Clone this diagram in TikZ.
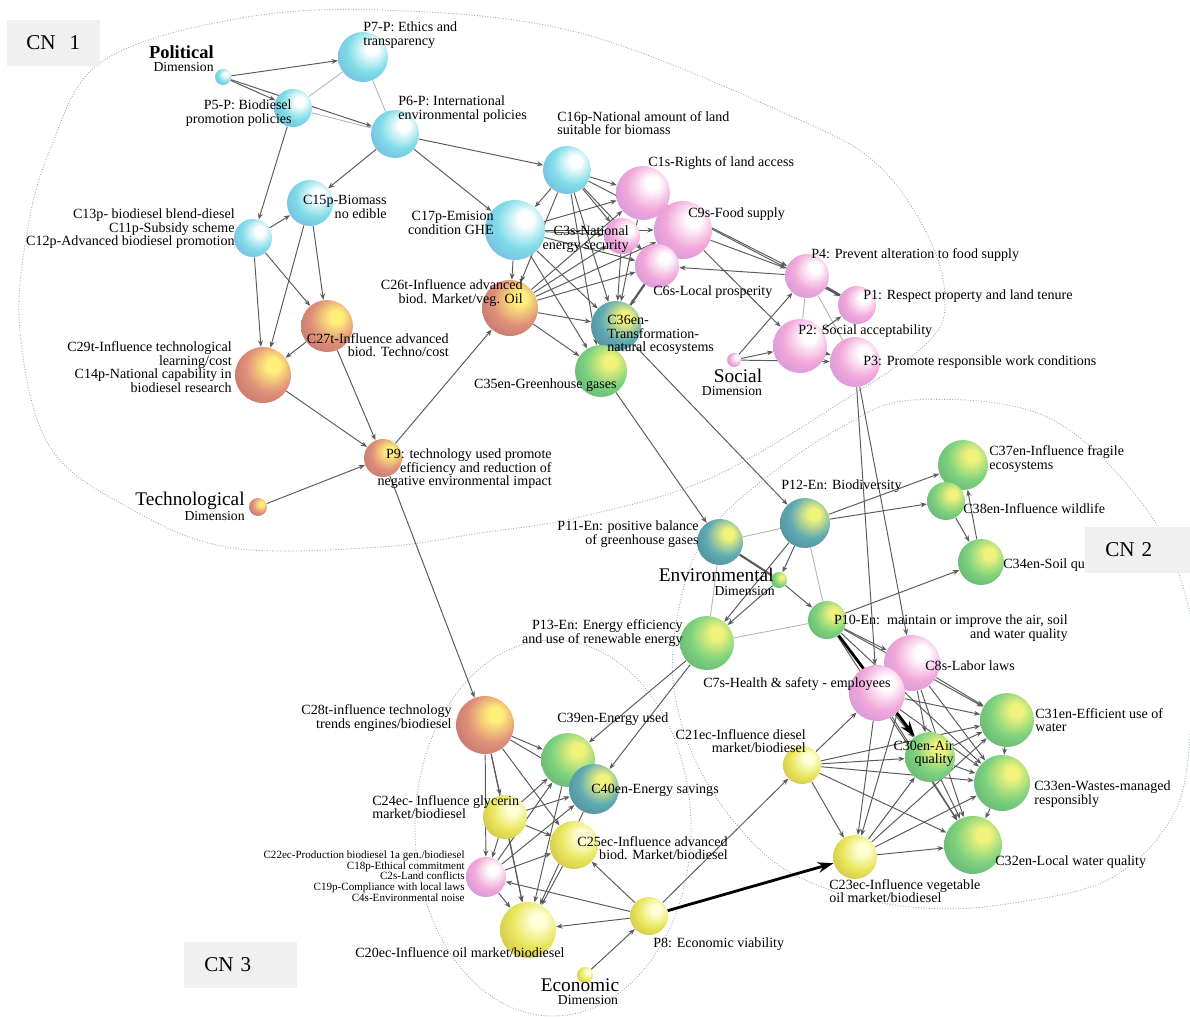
\documentclass[tikz,border=0pt]{standalone}
\usepackage{fontspec}
\setmainfont{Liberation Serif}
\usetikzlibrary{arrows.meta,backgrounds}
\definecolor{cPolA}{HTML}{7FDCE8}
\definecolor{cPolB}{HTML}{6E7FD0}
\definecolor{cSocA}{HTML}{F2A8DA}
\definecolor{cSocB}{HTML}{9A7ED8}
\definecolor{cTecH}{HTML}{FFF07A}
\definecolor{cTecA}{HTML}{E0907A}
\definecolor{cTecB}{HTML}{8E4E58}
\definecolor{cEnvH}{HTML}{F0F27C}
\definecolor{cEnvA}{HTML}{7ED27E}
\definecolor{cEnvB}{HTML}{3E8068}
\definecolor{cTealA}{HTML}{5FAAB4}
\definecolor{cTealB}{HTML}{3E5E6C}
\definecolor{cEcoH}{HTML}{FFFFD8}
\definecolor{cEcoA}{HTML}{E8E65A}
\definecolor{cEcoB}{HTML}{A8883A}
\definecolor{cEdge}{HTML}{5A5A5A}
\definecolor{cRing}{HTML}{9AA6B8}
\definecolor{cBox}{HTML}{F0F0F0}
\colorlet{sphH}{white}\colorlet{sphA}{cPolA}\colorlet{sphB}{cPolB}
\pgfdeclareradialshading[sphH,sphA,sphB]{sphere}{\pgfqpoint{10bp}{10bp}}{%
  color(0bp)=(sphH); color(6bp)=(sphH); color(22bp)=(sphA);
  color(40bp)=(sphA!50!sphB); color(52bp)=(sphB); color(66bp)=(sphB!65!black)}

\begin{document}
\begin{tikzpicture}[
    x=0.02cm,y=-0.02cm,
    >={Stealth[length=3.6pt,width=2.8pt]},
    bub/.style={circle,inner sep=0pt,minimum size=#1*0.04cm,shade,shading=sphere},
    pol/.style={/utils/exec={\colorlet{sphH}{white}\colorlet{sphA}{cPolA}\colorlet{sphB}{cPolB}}},
    soc/.style={/utils/exec={\colorlet{sphH}{white}\colorlet{sphA}{cSocA}\colorlet{sphB}{cSocB}}},
    tec/.style={/utils/exec={\colorlet{sphH}{cTecH}\colorlet{sphA}{cTecA}\colorlet{sphB}{cTecB}}},
    env/.style={/utils/exec={\colorlet{sphH}{cEnvH}\colorlet{sphA}{cEnvA}\colorlet{sphB}{cEnvB}}},
    tea/.style={/utils/exec={\colorlet{sphH}{cEnvH}\colorlet{sphA}{cTealA}\colorlet{sphB}{cTealB}}},
    eco/.style={/utils/exec={\colorlet{sphH}{cEcoH}\colorlet{sphA}{cEcoA}\colorlet{sphB}{cEcoB}}},
    lab/.style={inner sep=0pt,font=\fontsize{8}{7.7}\selectfont},
    labl/.style={lab,anchor=west,align=left},
    labr/.style={lab,anchor=east,align=right},
    labtiny/.style={inner sep=0pt,anchor=east,align=right,font=\fontsize{6.3}{6.1}\selectfont},
    dimbig/.style={inner sep=0pt,font=\fontsize{11}{11}\selectfont},
    dimsm/.style={inner sep=0pt,font=\fontsize{7.8}{8}\selectfont},
    ed/.style={->,draw=cEdge,line width=0.55pt},
    lt/.style={draw=cEdge!45,line width=0.5pt},
    tk/.style={draw=cEdge,line width=1.2pt},
    big/.style={-{Stealth[length=9pt,width=6pt]},draw=black,line width=1.6pt},
    grp/.style={draw=cRing,line width=0.5pt,densely dotted},
    cn/.style={fill=cBox,anchor=west,inner xsep=0.4cm,minimum height=0.92cm,
               align=left,font=\fontsize{12}{12}\selectfont},
  ]
  \useasboundingbox (0,0) rectangle (1190,1019);

  % ---------- CN 1: political / social / technological ----------
  \node[bub=8,pol]  (PolDim) at (223,77)  {};
  \node[bub=25,pol] (P7)     at (363,57)  {};
  \node[bub=19,pol] (P5)     at (293,108) {};
  \node[bub=24,pol] (P6)     at (395,134) {};
  \node[bub=23,pol] (C15p)   at (310,203) {};
  \node[bub=19,pol] (C13p)   at (253,238) {};
  \node[bub=24,pol] (C16p)   at (567,170) {};
  \node[bub=30,pol] (C17p)   at (515,230) {};
  \node[bub=18,soc] (C3s)    at (622,236) {};
  \node[bub=27,soc] (C1s)    at (643,193) {};
  \node[bub=29,soc] (C9s)    at (683,230) {};
  \node[bub=22,soc] (C6s)    at (657,266) {};
  \node[bub=28,tec] (C26t)   at (510,308) {};
  \node[bub=25,tea] (C36en)  at (616,326) {};
  \node[bub=26,env] (C35en)  at (601,371) {};
  \node[bub=26,tec] (C27t)   at (327,326) {};
  \node[bub=28,tec] (C29t)   at (263,375) {};
  \node[bub=19,tec] (P9)     at (383,458) {};
  \node[bub=9,tec]  (TechDim) at (258,507) {};
  \node[bub=22,soc] (P4)     at (807,276) {};
  \node[bub=19,soc] (P1)     at (857,305) {};
  \node[bub=27,soc] (P2)     at (800,346) {};
  \node[bub=25,soc] (P3)     at (855,362) {};
  \node[bub=7,soc]  (SocDim) at (734,360) {};

  % ---------- CN 2: environmental ----------
  \node[bub=25,tea] (P12)    at (805,523) {};
  \node[bub=23,tea] (P11)    at (720,542) {};
  \node[bub=8,env]  (EnvDim) at (779,580) {};
  \node[bub=25,env] (C37en)  at (963,465) {};
  \node[bub=19,env] (C38en)  at (946,501) {};
  \node[bub=23,env] (C34en)  at (981,562) {};
  \node[bub=19,env] (P10)    at (827,620) {};
  \node[bub=27,env] (P13)    at (707,643) {};
  \node[bub=28,soc] (C8s)    at (912,663) {};
  \node[bub=28,soc] (C7s)    at (877,693) {};
  \node[bub=27,env] (C31en)  at (1007,720) {};
  \node[bub=25,env] (C30en)  at (930,757) {};
  \node[bub=19,eco] (C21ec)  at (802,765) {};
  \node[bub=28,env] (C33en)  at (1002,783) {};
  \node[bub=29,env] (C32en)  at (973,845) {};
  \node[bub=22,eco] (C23ec)  at (855,857) {};

  % ---------- CN 3: economic ----------
  \node[bub=29,tec] (C28t)   at (485,725) {};
  \node[bub=27,env] (C39en)  at (568,760) {};
  \node[bub=25,tea] (C40en)  at (594,789) {};
  \node[bub=22,eco] (C24ec)  at (505,817) {};
  \node[bub=24,eco] (C25ec)  at (574,845) {};
  \node[bub=20,soc] (C22ec)  at (486,877) {};
  \node[bub=28,eco] (C20ec)  at (528,930) {};
  \node[bub=19,eco] (P8)     at (649,916) {};
  \node[bub=8,eco]  (EconDim) at (585,975) {};

  % ---------- labels ----------
  \node[dimbig,anchor=east,font=\fontsize{10.5}{11}\selectfont\bfseries] (tPol) at (214,52) {Political};
  \node[dimsm,anchor=east] (tPolD) at (214,67) {Dimension};
  \node[labl] (tP7)   at (363,35)  {P7-P: Ethics and\\transparency};
  \node[labr] (tP5)   at (292,113) {P5-P: Biodiesel\\promotion policies};
  \node[labl] (tP6)   at (398,109) {P6-P: International\\environmental policies};
  \node[labr] (tC15p) at (387,207) {C15p-Biomass\\no edible};
  \node[labr] (tC13p) at (235,229) {C13p- biodiesel blend-diesel\\C11p-Subsidy scheme\\C12p-Advanced biodiesel promotion};
  \node[labl] (tC16p) at (557,123) {C16p-National amount of land\\suitable for biomass};
  \node[labr] (tC17p) at (494,223) {C17p-Emision\\condition GHE};
  \node[labl] (tC1s)  at (648,163) {C1s-Rights of land access};
  \node[labl] (tC9s)  at (688,214) {C9s-Food supply};
  \node[labr] (tC3s)  at (629,239) {C3s-National\\energy security};
  \node[labl] (tC6s)  at (653,292) {C6s-Local prosperity};
  \node[labr] (tC26t) at (523,293) {C26t-Influence advanced\\biod. Market/veg. Oil};
  \node[labl] (tC36en) at (607,335) {C36en-\\Transformation-\\natural ecosystems};
  \node[labr] (tC35en) at (617,385) {C35en-Greenhouse gases};
  \node[labr] (tC27t) at (449,345) {C27t-Influence advanced\\biod. Techno/cost};
  \node[labr] (tC29t) at (232,367) {C29t-Influence technological\\learning/cost\\C14p-National capability in\\biodiesel research};
  \node[labr] (tP9)   at (552,469) {P9: technology used promote\\efficiency and reduction of\\negative environmental impact};
  \node[dimbig,anchor=east] (tTech)  at (245,501) {Technological};
  \node[dimsm,anchor=east]  (tTechD) at (245,516) {Dimension};
  \node[labl] (tP4)   at (811,255) {P4: Prevent alteration to food supply};
  \node[labl] (tP1)   at (863,296) {P1: Respect property and land tenure};
  \node[labl] (tP2)   at (798,331) {P2: Social acceptability};
  \node[labl] (tP3)   at (863,362) {P3: Promote responsible work conditions};
  \node[dimbig] (tSoc)  at (738,376) {Social};
  \node[dimsm]  (tSocD) at (732,391) {Dimension};

  \node[labl] (tP12)  at (781,486) {P12-En: Biodiversity};
  \node[labr] (tP11)  at (699,534) {P11-En: positive balance\\of greenhouse gases};
  \node[dimbig,anchor=east] (tEnv)  at (774,575) {Environmental};
  \node[dimsm,anchor=east]  (tEnvD) at (775,591) {Dimension};
  \node[labl] (tC37en) at (989,459) {C37en-Influence fragile\\ecosystems};
  \node[labl] (tC38en) at (963,509) {C38en-Influence wildlife};
  \node[labl] (tC34en) at (1003,565) {C34en-Soil quality};
  \node[labr] (tP10)  at (1068,628) {P10-En:\ \ maintain or improve the air, soil\\and water quality};
  \node[labr] (tP13)  at (683,633) {P13-En: Energy efficiency\\and use of renewable energy};
  \node[labl] (tC8s)  at (925,666) {C8s-Labor laws};
  \node[labr] (tC7s)  at (891,684) {C7s-Health \& safety - employees};
  \node[labl] (tC31en) at (1035,720) {C31en-Efficient use of\\water};
  \node[labr] (tC30en) at (954,754) {C30en-Air\\quality};
  \node[labr] (tC21ec) at (806,741) {C21ec-Influence diesel\\market/biodiesel};
  \node[labl] (tC33en) at (1034,794) {C33en-Wastes-managed\\responsibly};
  \node[labl] (tC32en) at (995,862) {C32en-Local water quality};
  \node[labl] (tC23ec) at (829,891) {C23ec-Influence vegetable\\oil market/biodiesel};

  \node[labr] (tC28t)  at (452,718) {C28t-influence technology\\trends engines/biodiesel};
  \node[labl] (tC39en) at (557,719) {C39en-Energy used};
  \node[labl] (tC40en) at (591,790) {C40en-Energy savings};
  \node[labl] (tC24ec) at (372,807) {C24ec- Influence glycerin\\market/biodiesel};
  \node[labr] (tC25ec) at (728,848) {C25ec-Influence advanced\\biod. Market/biodiesel};
  \node[labtiny] (tC22ec) at (465,876) {C22ec-Production biodiesel 1a gen./biodiesel\\C18p-Ethical commitment\\C2s-Land conflicts\\C19p-Compliance with local laws\\C4s-Environmental noise};
  \node[labl] (tC20ec) at (355,953) {C20ec-Influence oil market/biodiesel};
  \node[labl] (tP8)    at (653,944) {P8: Economic viability};
  \node[dimbig] (tEco)  at (580,985)  {Economic};
  \node[dimsm]  (tEcoD) at (588,1000) {Dimension};

  % ---------- CLUSTER RINGS + LINKS ----------
  \begin{scope}[on background layer]
    \draw[grp] plot[smooth cycle,tension=0.6] coordinates {(100,63) (230,20) (380,10)
      (580,33) (800,120) (880,167) (930,240) (945,300) (930,340) (857,392) (713,477)
      (580,517) (480,533) (380,547) (233,548) (133,510) (50,447) (20,333) (27,233) (50,150)};
    \draw[grp] plot[smooth cycle,tension=0.6] coordinates {(913,400) (1047,417) (1147,510)
      (1190,613) (1192,700) (1177,807) (1113,877) (1013,903) (923,908) (830,890) (760,850)
      (700,770) (673,680) (683,590) (710,530) (763,480) (840,428)};
    \draw[grp] (553,828) ellipse [x radius=138,y radius=188];

    % political
    \draw[ed] (PolDim) -- (P7);
    \draw[ed] (PolDim) -- (P5);
    \draw[ed] (PolDim) -- (P6);
    \draw[lt] (P7) -- (P5);
    \draw[lt] (P7) -- (P6);
    \draw[lt] (P5) -- (P6);
    \draw[ed] (P5) -- (C13p);
    \draw[ed] (P6) -- (C15p);
    \draw[ed] (P6) -- (C16p);
    \draw[ed] (P6) -- (C17p);
    \draw[ed] (C13p) -- (C15p);
    \foreach \s in {C13p,C15p} {\draw[ed] (\s) -- (C29t); \draw[ed] (\s) -- (C27t);}
    \draw[ed] (C27t) -- (C29t);
    \draw[ed] (C27t) -- (P9);
    \draw[ed] (C29t) -- (P9);
    \draw[ed] (TechDim) -- (P9);
    \draw[ed] (P9) -- (C26t);
    \draw[ed] (P9) -- (C28t);
    % dense core
    \foreach \t in {C17p,C1s,C9s,C3s,C6s,C36en,C26t,C35en} \draw[ed] (C16p) -- (\t);
    \foreach \t in {C1s,C3s,C9s,C6s,C36en,C35en,C26t} \draw[ed] (C17p) -- (\t);
    \foreach \t in {C1s,C3s,C9s,C6s,C36en,C35en} \draw[ed] (C26t) -- (\t);
    \foreach \s in {C1s,C3s,C9s} \draw[ed] (\s) -- (C36en);
    \draw[tk] (C6s) -- (C36en);
    % social
    \draw[ed] (C1s) -- (P4);
    \draw[ed] (C9s) -- (P4);
    \draw[ed] (C9s) -- (P2);
    \draw[ed] (P4) -- (C6s);
    \draw[ed] (C1s) -- (P1);
    \foreach \t in {P4,P2,P3} \draw[ed] (SocDim) -- (\t);
    \draw[tk] (P4) -- (P1);
    \draw[lt] (P4) -- (P2);
    \draw[lt] (P4) -- (P3);
    \draw[ed] (P2) -- (P1);
    \draw[ed] (P2) -- (P3);
    \draw[ed] (P3) -- (C7s);
    \draw[ed] (P3) -- (C8s);
    \draw[ed] (C36en) -- (P12);
    \draw[ed] (C35en) -- (P11);

    % environmental
    \draw[ed] (P12) -- (C37en);
    \draw[ed] (P12) -- (C38en);
    \draw[ed] (C38en) -- (C34en);
    \draw[ed] (C34en) -- (C37en);
    \draw[ed] (P12) -- (EnvDim);
    \draw[lt] (P12) -- (P10);
    \draw[lt] (P12) -- (P11);
    \draw[tk] (P11) -- (EnvDim);
    \draw[ed] (EnvDim) -- (P10);
    \draw[ed] (EnvDim) -- (P13);
    \draw[ed] (P12) -- (P13);
    \draw[lt] (P11) -- (P13);
    \draw[ed] (P10) -- (C34en);
    \draw[lt] (P13) -- (P10);
    \foreach \t in {C8s,C31en,C33en,C32en} \draw[ed] (P10) -- (\t);
    \draw[ed] (C21ec) -- (C7s);
    \foreach \s in {C7s,C8s,C21ec,C23ec}
      \foreach \t in {C30en,C31en,C33en,C32en} \draw[ed] (\s) -- (\t);
    \foreach \s in {C7s,C8s,C21ec} \draw[ed] (\s) -- (C23ec);
    \draw[ed] (C30en) -- (C32en);
    \draw[ed] (C30en) -- (C31en);
    \draw[ed] (C30en) -- (C33en);
    \draw[ed] (C31en) -- (C33en);
    \draw[ed] (C33en) -- (C32en);
    \draw[big] (P10) -- (C30en);

    % economic
    \foreach \t in {C24ec,C22ec,C39en,C40en,C25ec,C20ec} \draw[ed] (C28t) -- (\t);
    \foreach \t in {C39en,C40en,C25ec,C22ec,C20ec} \draw[ed] (C24ec) -- (\t);
    \foreach \t in {C39en,C40en,C25ec,C20ec} \draw[ed] (C22ec) -- (\t);
    \foreach \s in {C39en,C40en,C25ec} \draw[ed] (\s) -- (C20ec);
    \foreach \t in {C25ec,C20ec,C22ec,C21ec} \draw[ed] (P8) -- (\t);
    \draw[ed] (EconDim) -- (P8);
    \draw[ed] (P13) -- (C39en);
    \draw[ed] (P13) -- (C40en);
    \draw[big] (P8) -- (C23ec);
  \end{scope}

  % ---------- CN TAGS ----------
  \node[cn,text width=1.1cm,inner xsep=0.38cm] (cn1) at (7,43)   {CN\ \ 1};
  \node[cn,text width=1.3cm]                   (cn2) at (1085,550) {CN 2};
  \node[cn,text width=1.46cm]                  (cn3) at (184,965)  {CN 3};

\end{tikzpicture}
\end{document}
